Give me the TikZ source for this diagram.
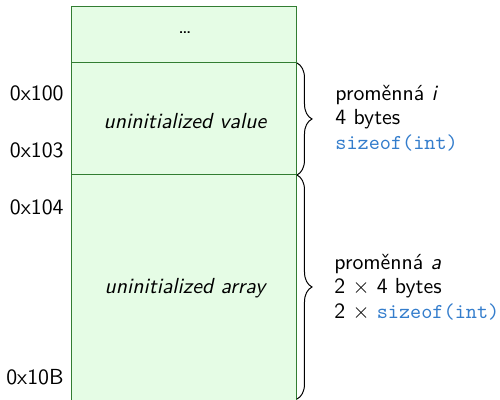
\documentclass[tikz,border=0pt]{standalone}
\usetikzlibrary{decorations.pathreplacing}
\definecolor{cellfill}{RGB}{229,252,229}
\definecolor{celldraw}{RGB}{50,125,50}
\definecolor{codeblue}{RGB}{52,125,204}
\newcommand{\myfs}{\fontsize{10.9pt}{12.3pt}\selectfont\sffamily}
\newcommand{\mycode}[1]{\textcolor{codeblue}{\fontsize{10.6pt}{12.3pt}\selectfont\ttfamily #1}}
\begin{document}
\begin{tikzpicture}[x=0.5pt,y=-0.5pt,
  cell/.style={fill=cellfill,draw=celldraw,line width=0.5pt},
  lbl/.style={font=\myfs,inner sep=0pt},
  addr/.style={font=\myfs,anchor=east,inner sep=0pt},
  bracedeco/.style={decorate,decoration={brace,amplitude=7.5pt},line width=0.5pt},
  info/.style={font=\myfs,anchor=west,align=left,inner sep=0pt}]
\useasboundingbox (0,0) rectangle (500,400);
\draw[cell] (72,7) rectangle (297,63);
\draw[cell] (72,63) rectangle (297,175);
\draw[cell] (72,175) rectangle (297,402);
\coordinate (b1t) at (297,63);
\coordinate (b1b) at (297,175);
\coordinate (b2t) at (297,175);
\coordinate (b2b) at (297,399);
\node[lbl] (dots) at (185,33) {\dots};
\node[lbl] (val) at (185,121) {\itshape uninitialized value};
\node[lbl] (arr) at (185,288) {\itshape uninitialized array};
\node[addr] (a100) at (64,93) {0x100};
\node[addr] (a103) at (64,150) {0x103};
\node[addr] (a104) at (64,207) {0x104};
\node[addr] (a10B) at (64,377) {0x10B};
\draw[bracedeco] (b1t) -- (b1b);
\draw[bracedeco] (b2t) -- (b2b);
\node[info] (ti) at (335,118) {proměnná \textit{i}\\4 bytes\\\mycode{sizeof(int)}};
\node[info] (ta) at (334,287) {proměnná \textit{a}\\2 $\times$ 4 bytes\\2 $\times$ \mycode{sizeof(int)}};
\end{tikzpicture}
\end{document}
